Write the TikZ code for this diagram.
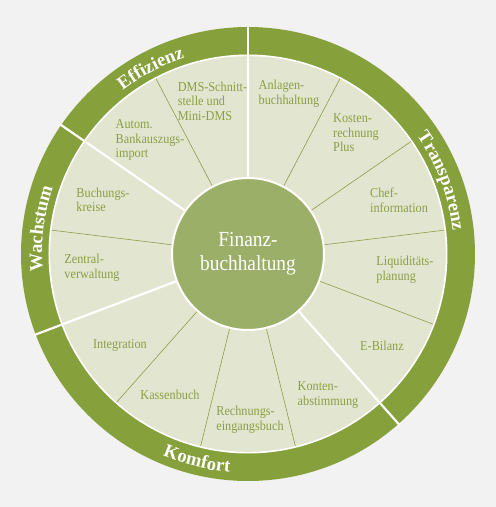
\documentclass[tikz,border=0pt]{standalone}
\usepackage{fontspec}
\setmainfont{Liberation Serif}
\newfontfamily\narrowserif{Liberation Serif}[FakeStretch=0.9]
\usetikzlibrary{decorations.text}
\definecolor{bgc}{HTML}{F2F2F2}
\definecolor{ringc}{HTML}{86A03C}
\definecolor{discc}{HTML}{E2E6D0}
\definecolor{hubc}{HTML}{9CAF68}
\definecolor{itemc}{HTML}{8A9E45}
\definecolor{sepc}{HTML}{8C9C4A}
\begin{document}
\begin{tikzpicture}[x=1pt,y=1pt,
  item/.style={font=\narrowserif\fontsize{13.6}{14.6}\selectfont, text=itemc, align=left, inner sep=0pt},
  thinsep/.style={draw=sepc, line width=0.6pt},
  thicksep/.style={draw=white, line width=2.2pt},
  cattext/.style={decorate, decoration={text along path, text align=center, text color=white,
     text={|\bfseries\fontsize{18.6}{18.6}\selectfont|#1}}}]
\fill[bgc] (-248,-253) rectangle (248,254);
\useasboundingbox (-248,-253) rectangle (248,254);
% ring and disc
\fill[ringc] (0,0) circle[radius=227];
\fill[white] (0,0) circle[radius=199.5];
\fill[discc] (0,0) circle[radius=197.8];
% separators
\foreach \k in {1,3,5,6,7,9,10,11,12}
  \draw[thinsep] ({90+\k*360/13}:77) -- ({90+\k*360/13}:197.8);
\foreach \k in {0,2,4,8}
  \draw[thicksep] ({90+\k*360/13}:77) -- ({90+\k*360/13}:229);
% hub
\node[circle, fill=hubc, draw=white, line width=2pt, minimum size=152pt, inner sep=0pt,
      font=\narrowserif\fontsize{21.5}{24}\selectfont, text=white, align=center] (hub) at (0,0) {Finanz-\\buchhaltung};
% category labels
\path[cattext=Effizienz] (145.38:206) arc[start angle=145.38, end angle=90, radius=206];
\path[cattext=Transparenz] (90:206) arc[start angle=90, end angle=-48.46, radius=206];
\path[cattext=Wachstum] (200.77:206) arc[start angle=200.77, end angle=145.38, radius=206];
\path[cattext=Komfort] (200.77:219) arc[start angle=200.77, end angle=311.54, radius=219];
% items
\node[item] (dms) at (-35.5,153) {DMS-Schnitt-\\stelle und\\Mini-DMS};
\node[item] (anl) at (41,160) {Anlagen-\\buchhaltung};
\node[item] (kos) at (108,121) {Kosten-\\rechnung\\Plus};
\node[item] (aut) at (-98,114) {Autom.\\Bankauszugs-\\import};
\node[item] (chef) at (151,54) {Chef-\\information};
\node[item] (liq) at (157,-16) {Liquiditäts-\\planung};
\node[item] (buch) at (-145,54) {Buchungs-\\kreise};
\node[item] (zen) at (-156,-14) {Zentral-\\verwaltung};
\node[item] (int) at (-128,-91) {Integration};
\node[item] (ebil) at (134,-92) {E-Bilanz};
\node[item] (kas) at (-78,-141) {Kassenbuch};
\node[item] (rech) at (2,-166) {Rechnungs-\\eingangsbuch};
\node[item] (kont) at (80,-141) {Konten-\\abstimmung};
\end{tikzpicture}
\end{document}
